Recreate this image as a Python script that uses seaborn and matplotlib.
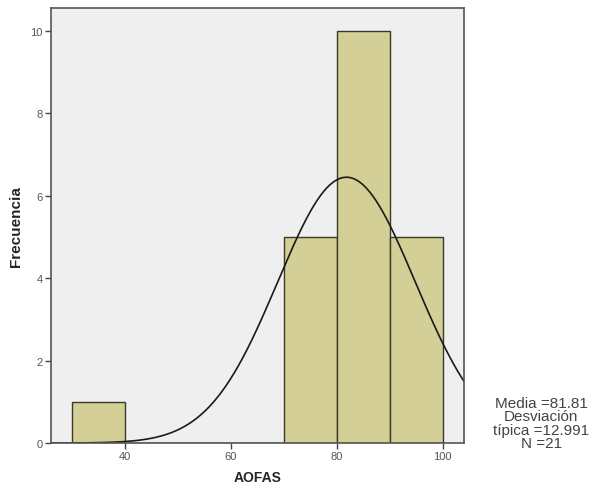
import numpy as np
import pandas as pd
import matplotlib
matplotlib.use('Agg')
import matplotlib.pyplot as plt
import seaborn as sns

# histogram bins (AOFAS score) and frequencies
bin_edges = [30, 40, 50, 60, 70, 80, 90, 100]
counts = [1, 0, 0, 0, 5, 10, 5]
media = 81.81
desviacion = 12.991
n_total = 21

x_ticks = [40, 60, 80, 100]
y_ticks = [0, 2, 4, 6, 8, 10]

sns.set_style('white')
plt.rcParams['font.family'] = ['Liberation Sans', 'DejaVu Sans']

centers = [(a + b) / 2 for a, b in zip(bin_edges[:-1], bin_edges[1:])]
df = pd.DataFrame({'AOFAS': centers, 'n': counts})

fig = plt.figure(figsize=(5.94, 4.89), dpi=100)
ax = fig.add_axes([0.086, 0.092, 0.695, 0.890])
ax.set_facecolor('#efefef')

sns.histplot(data=df, x='AOFAS', weights='n', bins=bin_edges, ax=ax,
             color='#d3cf97', alpha=1, edgecolor='#3a3a2a', linewidth=1.0)

# normal curve scaled to counts
width = bin_edges[1] - bin_edges[0]
xs = np.linspace(26, 104, 400)
ys = n_total * width / (desviacion * np.sqrt(2 * np.pi)) * np.exp(-0.5 * ((xs - media) / desviacion) ** 2)
sns.lineplot(x=xs, y=ys, ax=ax, color='#1a1a1a', linewidth=1.2)

ax.set_xlim(26, 104)
ax.set_ylim(0, 10.56)
ax.set_xticks(x_ticks)
ax.set_yticks(y_ticks)
ax.tick_params(axis='both', direction='out', length=4, width=1, color='#444444',
               labelsize=8, labelcolor='#555555', bottom=True, left=True, pad=2)
for s in ax.spines.values():
    s.set_color('#555555')
    s.set_linewidth(1.2)

ax.set_xlabel('AOFAS', fontsize=10, fontweight='bold', labelpad=6)
ax.set_ylabel('Frecuencia', fontsize=11, fontweight='bold', labelpad=5)

fig.text(0.911, 0.133, 'Media =81.81\nDesviación\ntípica =12.991\nN =21',
         ha='center', va='center', fontsize=11, color='#444444', linespacing=0.95)

fig.savefig('out.png', dpi=100)
